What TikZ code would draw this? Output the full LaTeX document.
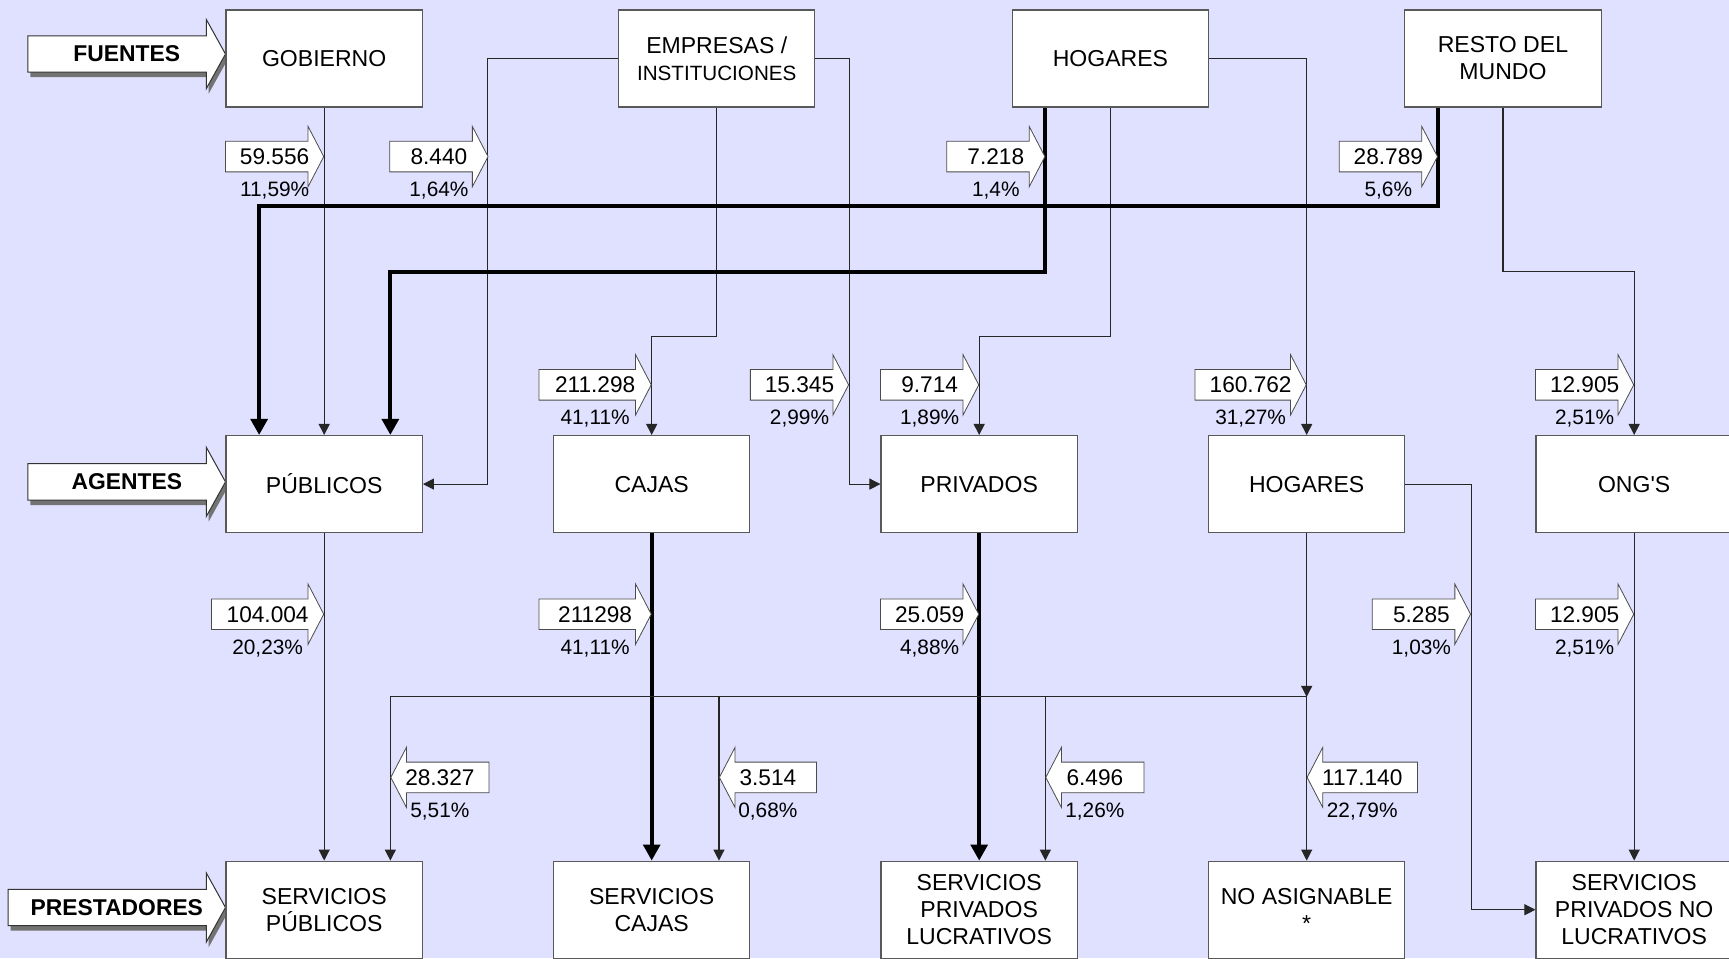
\documentclass[tikz,border=0pt]{standalone}
\usepackage{fontspec}
\setmainfont{Liberation Sans}
\usepackage{tikz}
\usetikzlibrary{positioning}
\usetikzlibrary{shapes.arrows}
\usetikzlibrary{arrows.meta}
\usetikzlibrary{calc}
\usetikzlibrary{shadows}
\definecolor{back_lila}{RGB}{224,224,255}
\tikzset{
  box/.style={rectangle, draw=black!65, line width=0.6pt, fill=white, minimum width=97.9pt, minimum height=48.4pt, inner sep=0pt, align=center, font=\fontsize{11.5}{13.5}\selectfont},
  level_arrow/.style={single arrow, draw=black!80, line width=0.5pt, fill=white, single arrow head extend=8.2pt, single arrow tip angle=122, minimum height=98.5pt, inner sep=0pt, text height=8.8pt, text depth=8.8pt, anchor=tip, drop shadow={fill=black!55, opacity=1, shadow xshift=1.2pt, shadow yshift=-2.5pt}},
  level_text/.style={inner sep=0pt, font=\bfseries\fontsize{11.4}{13}\selectfont},
  flow_right/.style={single arrow, draw=black!70, line width=0.4pt, fill=white, single arrow head extend=7.4pt, single arrow tip angle=125, minimum height=49pt, inner sep=0pt, text height=7.42pt, text depth=7.42pt, anchor=tip},
  flow_left/.style={flow_right, shape border rotate=180},
  flow_value/.style={inner sep=0pt, font=\fontsize{11.3}{13}\selectfont},
  flow_pct/.style={inner sep=0pt, font=\fontsize{10.4}{12}\selectfont},
  arrow_thin/.style={-{Triangle[length=5.5pt, width=5.5pt]}, line width=0.55pt, color=black!85},
  arrow_thick/.style={-{Triangle[length=8pt, width=8.3pt]}, line width=2pt, color=black}
}
\begin{document}
\begin{tikzpicture}[x=0.55pt, y=-0.55pt]
\path[use as bounding box, fill=back_lila] (0,0) rectangle (1568,869);

%% niveles
\node[level_arrow] at (205,49) (l_fue) {};
\node[level_text] at ($(l_fue.tail)!0.5!(l_fue.tip)$) (l_fue_t) {FUENTES};
\node[level_arrow] at (205,437) (l_age) {};
\node[level_text] at ($(l_age.tail)!0.5!(l_age.tip)$) (l_age_t) {AGENTES};
\node[level_arrow, minimum height=108.4pt] at (205,823) (l_pre) {};
\node[level_text] at ($(l_pre.tail)!0.5!(l_pre.tip)$) (l_pre_t) {PRESTADORES};

%% fuentes
\node[box] at (294,53)   (f_gob) {GOBIERNO};
\node[box] at (650,53)   (f_emp) {EMPRESAS /\\{\fontsize{10.3}{12}\selectfont INSTITUCIONES}};
\node[box] at (1007,53)  (f_hog) {HOGARES};
\node[box] at (1363,53)  (f_res) {RESTO DEL\\MUNDO};

%% agentes
\node[box] at (294,439)  (a_pub) {PÚBLICOS};
\node[box] at (591,439)  (a_caj) {CAJAS};
\node[box] at (888,439)  (a_pri) {PRIVADOS};
\node[box] at (1185,439) (a_hog) {HOGARES};
\node[box] at (1482,439) (a_ong) {ONG\textquotesingle S};

%% prestadores
\node[box] at (294,825)  (p_pub) {SERVICIOS\\PÚBLICOS};
\node[box] at (591,825)  (p_caj) {SERVICIOS\\CAJAS};
\node[box] at (888,825)  (p_plu) {SERVICIOS\\PRIVADOS\\LUCRATIVOS};
\node[box] at (1185,825) (p_nas) {NO ASIGNABLE\\*};
\node[box] at (1482,825) (p_pnl) {SERVICIOS\\PRIVADOS NO\\LUCRATIVOS};

%% arrows
\draw[arrow_thin] (f_gob) -- (a_pub);
\draw[arrow_thin] (f_emp.west) -- ++(-118,0) |- (a_pub.east);
\draw[arrow_thin] (f_emp.south) -- ++(0,208) -| (a_caj.north);
\draw[arrow_thin] (f_emp.east) -- ++(31,0) |- (a_pri.west);
\draw[arrow_thin] (f_hog.south) -- ++(0,208) -| (a_pri.north);
\draw[arrow_thin] (f_hog.east) -| (a_hog.north);
\draw[arrow_thin] (f_res.south) -- ++(0,149) -| (a_ong.north);
\draw[arrow_thick] ($(f_res.south)+(-59,0)$) -- ++(0,89) -| ($(a_pub.north)+(-59,0)$);
\draw[arrow_thick] ($(f_hog.south)+(-59,0)$) -- ++(0,149) -| ($(a_pub.north)+(60,0)$);

\draw[arrow_thin] (a_pub) -- (p_pub);
\draw[arrow_thick] (a_caj) -- (p_caj);
\draw[arrow_thick] (a_pri) -- (p_plu);
\draw[arrow_thin] (a_ong) -- (p_pnl);
\coordinate (hog_split) at (1185,632);
\draw[arrow_thin] (a_hog) -- (hog_split);
\draw[arrow_thin] (hog_split) -- (p_nas);
\draw[arrow_thin] (hog_split) -| ($(p_plu.north)+(60,0)$);
\draw[arrow_thin] (hog_split) -| ($(p_caj.north)+(61,0)$);
\draw[arrow_thin] (hog_split) -| ($(p_pub.north)+(60,0)$);
\draw[arrow_thin] (a_hog.east) -- ++(60,0) |- (p_pnl.west);

%% flujos fuentes -> agentes
\node[flow_right] at (294,142) (fa1) {};
\node[flow_value] at ($(fa1.tail)!0.5!(fa1.tip)$) (fa1v) {59.556};
\node[flow_pct] at ([yshift=-17pt]fa1v.center) (fa1p) {11,59\%};
\node[flow_right] at (443,142) (fa2) {};
\node[flow_value] at ($(fa2.tail)!0.5!(fa2.tip)$) (fa2v) {8.440};
\node[flow_pct] at ([yshift=-17pt]fa2v.center) (fa2p) {1,64\%};
\node[flow_right] at (948,142) (fa3) {};
\node[flow_value] at ($(fa3.tail)!0.5!(fa3.tip)$) (fa3v) {7.218};
\node[flow_pct] at ([yshift=-17pt]fa3v.center) (fa3p) {1,4\%};
\node[flow_right] at (1304,142) (fa4) {};
\node[flow_value] at ($(fa4.tail)!0.5!(fa4.tip)$) (fa4v) {28.789};
\node[flow_pct] at ([yshift=-17pt]fa4v.center) (fa4p) {5,6\%};

\node[flow_right, minimum height=56pt] at (591,349) (fb1) {};
\node[flow_value] at ($(fb1.tail)!0.5!(fb1.tip)$) (fb1v) {211.298};
\node[flow_pct] at ([yshift=-17pt]fb1v.center) (fb1p) {41,11\%};
\node[flow_right] at (770,349) (fb2) {};
\node[flow_value] at ($(fb2.tail)!0.5!(fb2.tip)$) (fb2v) {15.345};
\node[flow_pct] at ([yshift=-17pt]fb2v.center) (fb2p) {2,99\%};
\node[flow_right] at (888,349) (fb3) {};
\node[flow_value] at ($(fb3.tail)!0.5!(fb3.tip)$) (fb3v) {9.714};
\node[flow_pct] at ([yshift=-17pt]fb3v.center) (fb3p) {1,89\%};
\node[flow_right, minimum height=55.5pt] at (1185,349) (fb4) {};
\node[flow_value] at ($(fb4.tail)!0.5!(fb4.tip)$) (fb4v) {160.762};
\node[flow_pct] at ([yshift=-17pt]fb4v.center) (fb4p) {31,27\%};
\node[flow_right] at (1482,349) (fb5) {};
\node[flow_value] at ($(fb5.tail)!0.5!(fb5.tip)$) (fb5v) {12.905};
\node[flow_pct] at ([yshift=-17pt]fb5v.center) (fb5p) {2,51\%};

%% flujos agentes -> prestadores
\node[flow_right, minimum height=56pt] at (294,557) (fc1) {};
\node[flow_value] at ($(fc1.tail)!0.5!(fc1.tip)$) (fc1v) {104.004};
\node[flow_pct] at ([yshift=-17pt]fc1v.center) (fc1p) {20,23\%};
\node[flow_right, minimum height=56pt] at (591,557) (fc2) {};
\node[flow_value] at ($(fc2.tail)!0.5!(fc2.tip)$) (fc2v) {211298};
\node[flow_pct] at ([yshift=-17pt]fc2v.center) (fc2p) {41,11\%};
\node[flow_right] at (888,557) (fc3) {};
\node[flow_value] at ($(fc3.tail)!0.5!(fc3.tip)$) (fc3v) {25.059};
\node[flow_pct] at ([yshift=-17pt]fc3v.center) (fc3p) {4,88\%};
\node[flow_right] at (1334,557) (fc4) {};
\node[flow_value] at ($(fc4.tail)!0.5!(fc4.tip)$) (fc4v) {5.285};
\node[flow_pct] at ([yshift=-17pt]fc4v.center) (fc4p) {1,03\%};
\node[flow_right] at (1482,557) (fc5) {};
\node[flow_value] at ($(fc5.tail)!0.5!(fc5.tip)$) (fc5v) {12.905};
\node[flow_pct] at ([yshift=-17pt]fc5v.center) (fc5p) {2,51\%};

\node[flow_left] at (354,705) (fd1) {};
\node[flow_value] at ($(fd1.tail)!0.5!(fd1.tip)$) (fd1v) {28.327};
\node[flow_pct] at ([yshift=-17pt]fd1v.center) (fd1p) {5,51\%};
\node[flow_left, minimum height=48.4pt] at (652,705) (fd2) {};
\node[flow_value] at ($(fd2.tail)!0.5!(fd2.tip)$) (fd2v) {3.514};
\node[flow_pct] at ([yshift=-17pt]fd2v.center) (fd2p) {0,68\%};
\node[flow_left] at (948,705) (fd3) {};
\node[flow_value] at ($(fd3.tail)!0.5!(fd3.tip)$) (fd3v) {6.496};
\node[flow_pct] at ([yshift=-17pt]fd3v.center) (fd3p) {1,26\%};
\node[flow_left, minimum height=55pt] at (1185,705) (fd4) {};
\node[flow_value] at ($(fd4.tail)!0.5!(fd4.tip)$) (fd4v) {117.140};
\node[flow_pct] at ([yshift=-17pt]fd4v.center) (fd4p) {22,79\%};

\end{tikzpicture}
\end{document}
